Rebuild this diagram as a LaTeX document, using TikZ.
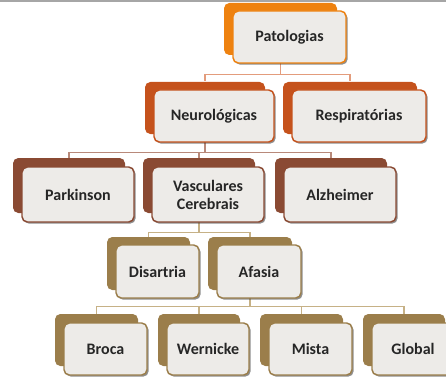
\documentclass[tikz,border=0pt]{standalone}
\usepackage{fontspec}
\setmainfont{Carlito}
\usetikzlibrary{shadows}

\definecolor{lvone}{HTML}{EE8210}
\definecolor{lvtwo}{HTML}{C5521C}
\definecolor{lvthree}{HTML}{8A4A33}
\definecolor{lvfour}{HTML}{9B7E4B}
\definecolor{linkone}{HTML}{E39C7C}
\definecolor{linktwo}{HTML}{B8897A}
\definecolor{linkthree}{HTML}{C6B186}
\definecolor{boxgray}{HTML}{EDEBE8}

\tikzset{every picture/.style={line width=0.75pt}}
\tikzset{
    back/.style={rounded corners=4pt, inner sep=0pt, minimum height=52*0.75pt},
    front/.style={rounded corners=4pt, inner sep=0pt, minimum height=52*0.75pt,
        fill=boxgray, line width=1.1pt, text=black!85, align=center,
        font=\bfseries\fontsize{12}{13.5}\selectfont,
        drop shadow={shadow xshift=1.2pt, shadow yshift=-1.2pt, opacity=0.55, fill=black!80}},
    wd/.style={minimum width=#1*0.75pt},
    ht/.style={minimum height=#1*0.75pt},
    link/.style={line width=1.4pt}
}

\begin{document}
\begin{tikzpicture}[
            x=0.75pt,
            y=0.75pt,
            yscale=-1,
            xscale=1,
            every node/.style={text=black},
            line width=0.75pt
        ]
            \clip (0,0) rectangle (446,378);
            \fill[black!35] (0,0) rectangle (446,2.5);

            % back plates
            \node[back, wd=113, fill=lvone] (patB) at (280.5,29) {};
            \node[back, wd=120, fill=lvtwo] (neuB) at (205,108) {};
            \node[back, wd=134, fill=lvtwo] (resB) at (350,108) {};
            \node[back, wd=112, ht=55, fill=lvthree] (parB) at (69,185.5) {};
            \node[back, wd=112, ht=55, fill=lvthree] (vasB) at (199,185.5) {};
            \node[back, wd=112, ht=55, fill=lvthree] (alzB) at (331,185.5) {};
            \node[back, wd=83, ht=53, fill=lvfour] (disB) at (148.5,263.5) {};
            \node[back, wd=84, ht=53, fill=lvfour] (afaB) at (250,263.5) {};
            \node[back, wd=83, fill=lvfour] (broB) at (96.5,340) {};
            \node[back, wd=82, fill=lvfour] (werB) at (199,340) {};
            \node[back, wd=83, fill=lvfour] (misB) at (301.5,340) {};
            \node[back, wd=82, fill=lvfour] (gloB) at (404,340) {};

            % connectors
            \draw[link, linkone] (patB.south) -- ++(0,19) coordinate (j1) -| (neuB.north);
            \draw[link, linkone] (j1) -| (resB.north);
            \draw[link, linktwo] (neuB.south) -- ++(0,18) coordinate (j2) -| (parB.north);
            \draw[link, linktwo] (j2) -| (vasB.north);
            \draw[link, linktwo] (j2) -| (alzB.north);
            \draw[link, linkthree] (vasB.south) -- ++(0,19) coordinate (j3) -| (disB.north);
            \draw[link, linkthree] (j3) -| (afaB.north);
            \draw[link, linkthree] (afaB.south) -- ++(0,16) coordinate (j4) -| (broB.north);
            \draw[link, linkthree] (j4) -| (werB.north);
            \draw[link, linkthree] (j4) -| (misB.north);
            \draw[link, linkthree] (j4) -| (gloB.north);

            % front cards
            \node[front, wd=113, draw=lvone] (pat) at ([shift={(9,8)}]patB.center) {Patologias};
            \node[front, wd=120, draw=lvtwo] (neu) at ([shift={(9,8)}]neuB.center) {Neurológicas};
            \node[front, wd=134, draw=lvtwo] (res) at ([shift={(9,8)}]resB.center) {Respiratórias};
            \node[front, wd=112, ht=55, draw=lvthree] (par) at ([shift={(9,9)}]parB.center) {Parkinson};
            \node[front, wd=112, ht=55, draw=lvthree] (vas) at ([shift={(9,9)}]vasB.center) {Vasculares\\Cerebrais};
            \node[front, wd=112, ht=55, draw=lvthree] (alz) at ([shift={(9,9)}]alzB.center) {Alzheimer};
            \node[front, wd=83, ht=53, draw=lvfour] (dis) at ([shift={(9,8)}]disB.center) {Disartria};
            \node[front, wd=84, ht=53, draw=lvfour] (afa) at ([shift={(9,8)}]afaB.center) {Afasia};
            \node[front, wd=83, draw=lvfour] (bro) at ([shift={(9,9)}]broB.center) {Broca};
            \node[front, wd=82, draw=lvfour] (wer) at ([shift={(9,9)}]werB.center) {Wernicke};
            \node[front, wd=83, draw=lvfour] (mis) at ([shift={(9,9)}]misB.center) {Mista};
            \node[front, wd=82, draw=lvfour] (glo) at ([shift={(9,9)}]gloB.center) {Global};
        \end{tikzpicture}
\end{document}
